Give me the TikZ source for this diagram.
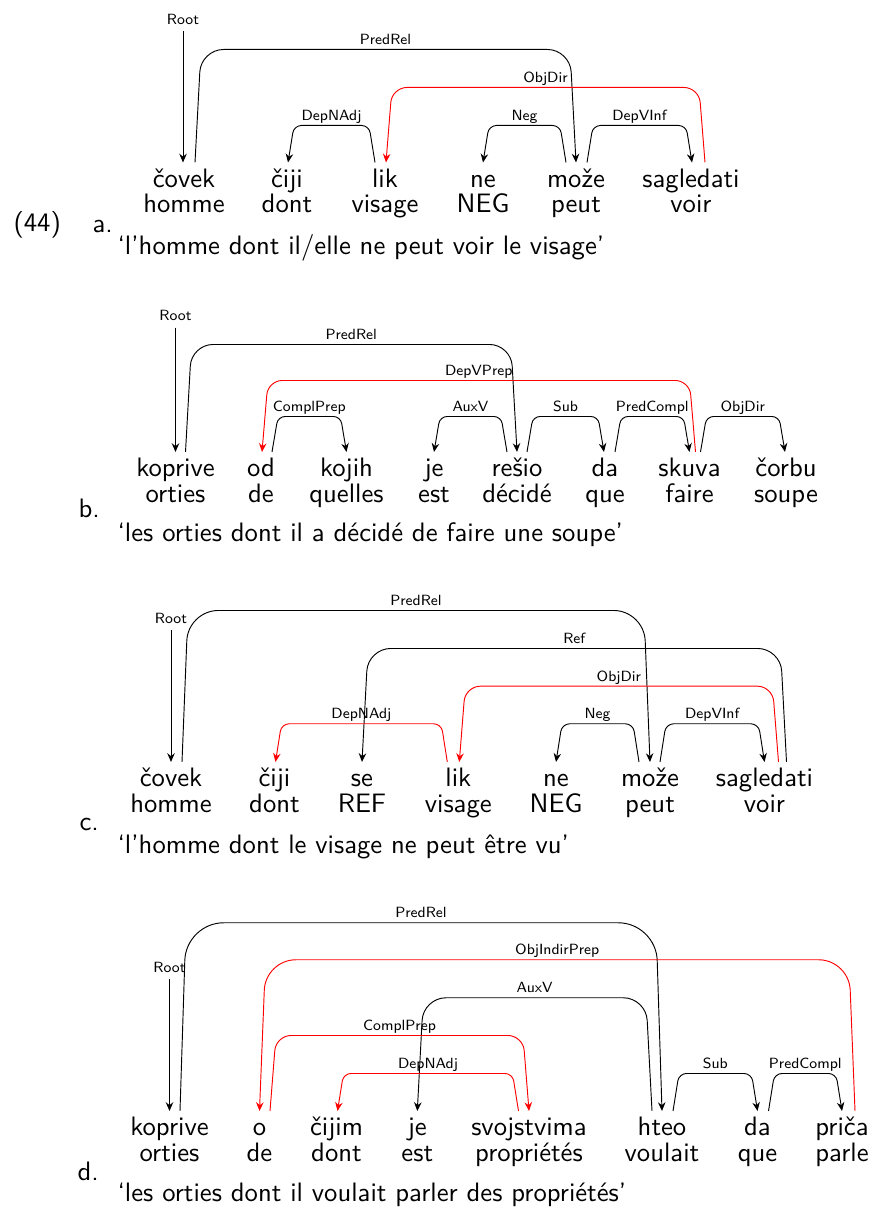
\documentclass[tikz,border=0pt]{standalone}
\usetikzlibrary{calc,arrows.meta}
\newcommand\wordfont{\fontsize{10}{12}\selectfont\sffamily}
\newcommand\labfont{\fontsize{7.1}{9}\selectfont\sffamily}
\newcounter{arcno}
\tikzset{
  word/.style={font=\wordfont, scale=1.28, inner sep=0pt, text height=9pt, anchor=base},
  gloss/.style={font=\wordfont, scale=1.28, inner sep=0pt, anchor=base},
  line/.style={font=\wordfont, scale=1.28, inner sep=0pt, anchor=base west},
  deplabel/.style={font=\labfont, text=black, inner sep=0pt, anchor=base, yshift=2.3pt},
  rootlabel/.style={font=\labfont, inner sep=0pt},
  dep/.style={line width=0.45pt, >={Stealth[length=4.2pt,width=3.6pt,inset=1.4pt]}},
}
% word with its gloss under it
\newcommand\wpair[4]{%
  \node[word] (#1) at (#2,\rowy) {#3};
  \node[gloss] (#1g) at (#2,\rowy+25.7) {#4};}
% arc: [style]{left word}{dx}{right word}{dx}{top}{label}
\newcommand\deparc[7][]{%
  \stepcounter{arcno}%
  \pgfmathsetmacro\deprad{0.096*(\rowy-24-#6)}%
  \pgfmathsetmacro\deprise{#6-\rowy+24}%
  \draw[dep,#1,rounded corners=\deprad pt]
    ($(#2.north)+(#3,0)$) -- ++(6,\deprise)
    -- node[deplabel] (lab\thearcno) {#7} ($(#4.north)+(#5-6,\deprise)$)
    -- ($(#4.north)+(#5,0)$);}
\begin{document}
\begin{tikzpicture}[x=0.48pt,y=-0.48pt]
\useasboundingbox (0,0) rectangle (869,1207);

% (44a)
\def\rowy{187}
\wpair{a1}{184}{čovek}{homme}
\wpair{a2}{287}{čiji}{dont}
\wpair{a3}{385}{lik}{visage}
\wpair{a4}{483}{ne}{NEG}
\wpair{a5}{576}{može}{peut}
\wpair{a6}{691}{sagledati}{voir}
\node[rootlabel] (aroot) at (183,19) {Root};
\draw[dep,->,shorten <=3pt] (aroot.south) -- (aroot.south |- a1.north);
\deparc[->]{a1}{11}{a5}{0}{50}{PredRel}
\deparc[red,<-]{a3}{1}{a6}{14}{88}{ObjDir}
\deparc[<-]{a2}{1}{a3}{-10}{126}{DepNAdj}
\deparc[<-]{a4}{0}{a5}{-10}{126}{Neg}
\deparc[->]{a5}{11}{a6}{1}{126}{DepVInf}
\node[line] (exno) at (13,231) {(44)};
\node[line] (ela) at (92,232.7) {a.};
\node[line] (tra) at (117,254) {‘l’homme dont il/elle ne peut voir le visage’};

% (44b)
\def\rowy{476.5}
\wpair{b1}{175.5}{koprive}{orties}
\wpair{b2}{261}{od}{de}
\wpair{b3}{346.5}{kojih}{quelles}
\wpair{b4}{434}{je}{est}
\wpair{b5}{517}{rešio}{décidé}
\wpair{b6}{605}{da}{que}
\wpair{b7}{689.5}{skuva}{faire}
\wpair{b8}{786}{čorbu}{soupe}
\node[rootlabel] (broot) at (175.5,315.7) {Root};
\draw[dep,->,shorten <=3pt] (broot.south) -- (broot.south |- b1.north);
\deparc[->]{b1}{10}{b5}{0}{345}{PredRel}
\deparc[red,<-]{b2}{1}{b7}{6}{381}{DepVPrep}
\deparc[->]{b2}{11}{b3}{0}{417}{ComplPrep}
\deparc[<-]{b4}{0}{b5}{-10}{417}{AuxV}
\deparc[->]{b5}{10}{b6}{-1}{417}{Sub}
\deparc[->]{b6}{10}{b7}{0}{417}{PredCompl}
\deparc[->]{b7}{11}{b8}{-1}{417}{ObjDir}
\node[line] (elb) at (78,517) {b.};
\node[line] (trb) at (117,541.7) {‘les orties dont il a décidé de faire une soupe’};

% (44c)
\def\rowy{786.5}
\wpair{c1}{171}{čovek}{homme}
\wpair{c2}{274.5}{čiji}{dont}
\wpair{c3}{362}{se}{REF}
\wpair{c4}{458.3}{lik}{visage}
\wpair{c5}{556}{ne}{NEG}
\wpair{c6}{650}{može}{peut}
\wpair{c7}{764.5}{sagledati}{voir}
\node[rootlabel] (croot) at (171,618.3) {Root};
\draw[dep,->,shorten <=3pt] (croot.south) -- (croot.south |- c1.north);
\deparc[->]{c1}{11}{c6}{0}{611}{PredRel}
\deparc[<-]{c3}{0}{c7}{22}{649}{Ref}
\deparc[red,<-]{c4}{1}{c7}{14}{686.7}{ObjDir}
\deparc[red,<-]{c2}{1}{c4}{-11}{724.3}{DepNAdj}
\deparc[<-]{c5}{0}{c6}{-11}{724.3}{Neg}
\deparc[->]{c6}{10}{c7}{0}{724.3}{DepVInf}
\node[line] (elc) at (79,830) {c.};
\node[line] (trc) at (117,853) {‘l’homme dont le visage ne peut être vu’};

% (44d)
\def\rowy{1135.5}
\wpair{d1}{169.5}{koprive}{orties}
\wpair{d2}{259.5}{o}{de}
\wpair{d3}{336.5}{čijim}{dont}
\wpair{d4}{417.3}{je}{est}
\wpair{d5}{529}{svojstvima}{propriétés}
\wpair{d6}{662}{hteo}{voulait}
\wpair{d7}{757.5}{da}{que}
\wpair{d8}{842}{priča}{parle}
\node[rootlabel] (droot) at (169.5,967.3) {Root};
\draw[dep,->,shorten <=3pt] (droot.south) -- (droot.south |- d1.north);
\deparc[->]{d1}{10.5}{d6}{0}{923.3}{PredRel}
\deparc[red,<-]{d2}{0}{d8}{13}{960.3}{ObjIndirPrep}
\deparc[<-]{d4}{0}{d6}{-10}{998.3}{AuxV}
\deparc[red,->]{d2}{10.5}{d5}{0}{1036}{ComplPrep}
\deparc[red,<-]{d3}{1}{d5}{-10.5}{1074}{DepNAdj}
\deparc[->]{d6}{11}{d7}{0}{1074}{Sub}
\deparc[->]{d7}{11}{d8}{0}{1074}{PredCompl}
\node[line] (eld) at (77,1180) {d.};
\node[line] (trd) at (117,1201.7) {‘les orties dont il voulait parler des propriétés’};
\end{tikzpicture}
\end{document}
